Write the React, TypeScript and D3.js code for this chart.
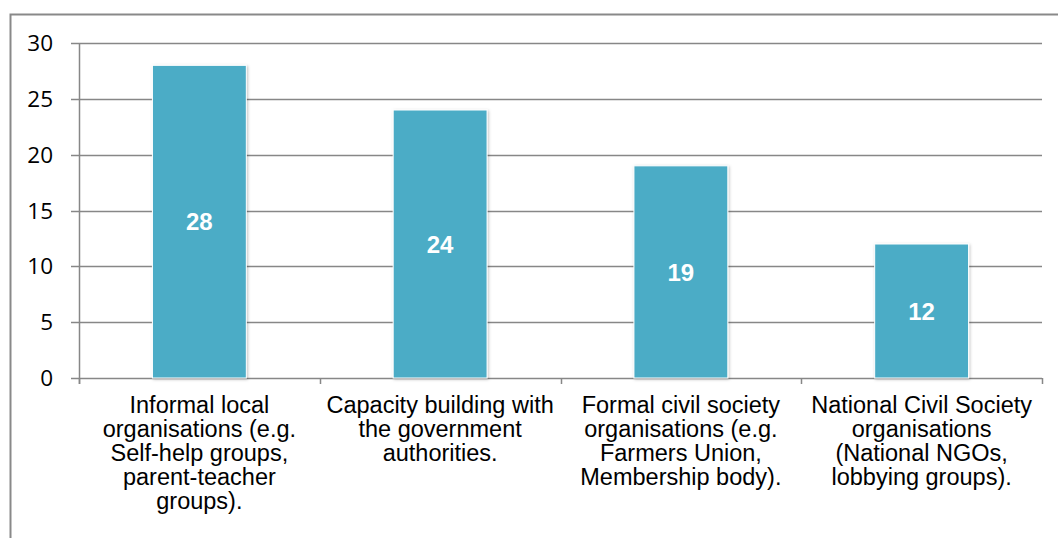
import React from "react";
import * as d3 from "d3";

const categories: string[][] = [
  ["Informal local", "organisations (e.g.", "Self-help groups,", "parent-teacher", "groups)."],
  ["Capacity building with", "the government", "authorities."],
  ["Formal civil society", "organisations (e.g.", "Farmers Union,", "Membership body)."],
  ["National Civil Society", "organisations", "(National NGOs,", "lobbying groups)."],
];
const values: number[] = [28, 24, 19, 12];
const yTicks: number[] = [0, 5, 10, 15, 20, 25, 30];

const W = 1058;
const H = 538;
const left = 79;
const right = 1042;
const top = 43;
const bottom = 378;

export default function App() {
  const ids = categories.map((_, i) => String(i));
  const x = d3.scaleBand<string>().domain(ids).range([left, right]).paddingInner(0.61).paddingOuter(0.305);
  const y = d3.scaleLinear().domain([0, 30]).range([bottom, top]);
  const step = x.step();
  const boundaries = d3.range(ids.length + 1).map((i) => left + i * step);
  const font = "'Liberation Sans', Arial, sans-serif";
  const gridColor = "#878787";

  return (
    <svg width={W} height={H} style={{ position: "absolute", left: 0, top: 0, display: "block" }}>
      <defs>
        <filter id="sh" x="-20%" y="-20%" width="140%" height="140%">
          <feDropShadow dx="1" dy="1" stdDeviation="1.5" floodColor="#000" floodOpacity="0.25" />
        </filter>
      </defs>
      <rect x={0} y={0} width={W} height={H} fill="#fff" />
      <rect x={10.5} y={14.5} width={1200} height={700} fill="none" stroke="#898989" strokeWidth={2} />
      {yTicks.map((t) => (
        <g key={t}>
          <line x1={71} x2={right} y1={Math.round(y(t)) + 0.5} y2={Math.round(y(t)) + 0.5} stroke={gridColor} strokeWidth={1.5} />
          <text x={53} y={y(t)} dy="0.36em" textAnchor="end" fontFamily="'Open Sans', 'Liberation Sans', sans-serif" fontSize={22.5} fill="#000">
            {t}
          </text>
        </g>
      ))}
      <line x1={left + 0.5} x2={left + 0.5} y1={top} y2={bottom + 6} stroke={gridColor} strokeWidth={1.5} />
      {boundaries.map((b, i) => (
        <line key={i} x1={Math.round(b) + 0.5} x2={Math.round(b) + 0.5} y1={bottom} y2={bottom + 6} stroke={gridColor} strokeWidth={1.5} />
      ))}
      {values.map((v, i) => (
        <g key={i}>
          <rect
            x={x(ids[i])!}
            y={y(v)}
            width={x.bandwidth()}
            height={bottom - y(v)}
            fill="#4BACC6"
            stroke="#ffffff"
            strokeWidth={1}
            filter="url(#sh)"
          />
          <text
            x={x(ids[i])! + x.bandwidth() / 2}
            y={(y(v) + bottom) / 2}
            dy="0.36em"
            textAnchor="middle"
            fontFamily={font}
            fontWeight="bold"
            fontSize={24}
            fill="#fff"
          >
            {v}
          </text>
        </g>
      ))}
      {categories.map((lines, i) => (
        <text key={i} textAnchor="middle" fontFamily={font} fontSize={23.5} fill="#000">
          {lines.map((ln, j) => (
            <tspan key={j} x={x(ids[i])! + x.bandwidth() / 2} y={413 + j * 24}>
              {ln}
            </tspan>
          ))}
        </text>
      ))}
    </svg>
  );
}
